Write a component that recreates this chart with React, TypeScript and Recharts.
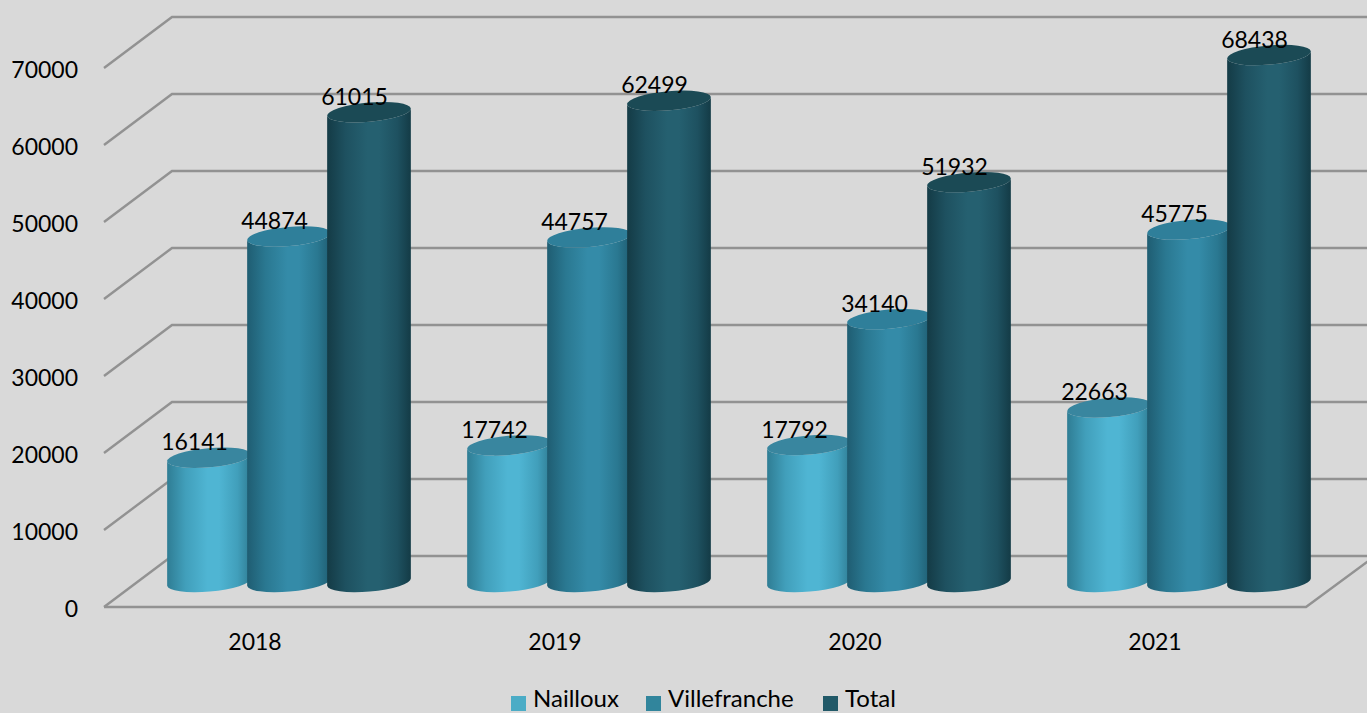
import React from "react";
import { BarChart, Bar, XAxis, YAxis, CartesianGrid, Legend, LabelList } from "recharts";

const years = ["2018", "2019", "2020", "2021"];
const nailloux = [16141, 17742, 17792, 22663];
const villefranche = [44874, 44757, 34140, 45775];
const total = [61015, 62499, 51932, 68438];
const yTicks = [0, 10000, 20000, 30000, 40000, 50000, 60000, 70000];
const seriesNames = ["Nailloux", "Villefranche", "Total"];
const legendColors = ["#4BACC6", "#31859C", "#215968"];
const gradientStops = [
  ["#2f7d94", "#4fb5d3", "#419fbb"],
  ["#1f5d72", "#348ba8", "#2a7891"],
  ["#143b46", "#256070", "#1e5160"],
];
const topColors = ["#39869f", "#2f7f9a", "#1b4a55"];

const rows = years.map((year, i) => ({
  year,
  Nailloux: nailloux[i],
  Villefranche: villefranche[i],
  Total: total[i],
}));

const FONT = "Lato, sans-serif";
const DX = 34;
const DY = -25;
const RY = 9.6;
const TILT = 5;

function cylinder(seriesIndex: number) {
  return function Cylinder(props: any) {
    const { x, y, width, height } = props;
    const rx = width / 2;
    const cx = x + rx + DX;
    const topY = y + DY;
    const baseY = y + height + DY;
    const rad = (TILT * Math.PI) / 180;
    const ex = rx * Math.cos(rad);
    const ey = rx * Math.sin(rad);
    const d = [
      `M ${cx - ex} ${topY + ey}`,
      `L ${cx - ex} ${baseY + ey}`,
      `A ${rx} ${RY} ${-TILT} 0 0 ${cx + ex} ${baseY - ey}`,
      `L ${cx + ex} ${topY - ey}`,
      `A ${rx} ${RY} ${-TILT} 0 1 ${cx - ex} ${topY + ey}`,
      "Z",
    ].join(" ");
    return (
      <g>
        <path d={d} fill={`url(#cyl${seriesIndex})`} />
        <ellipse
          cx={cx}
          cy={topY}
          rx={rx}
          ry={RY}
          fill={topColors[seriesIndex]}
          transform={`rotate(${-TILT} ${cx} ${topY})`}
        />
      </g>
    );
  };
}

const LINE = "#929292";

function gridLine(props: any) {
  const { x1, y1, x2, y2 } = props;
  const pts = `${x1 - 1},${y1} ${x1 + 67},${y1 - 51} ${x2 + 70},${y2 - 51}`;
  const isFloor = Math.abs(y1 - 607) < 1;
  return (
    <g key={`g-${y1}`}>
      <polyline points={pts} fill="none" stroke={LINE} strokeWidth={2.4} />
      {isFloor && (
        <polyline
          points={`${x1 - 1},${y1} ${x2 + 1},${y1} ${x2 + 70},${y1 - 51}`}
          fill="none"
          stroke={LINE}
          strokeWidth={2.4}
        />
      )}
    </g>
  );
}

function valueLabel(props: any) {
  const { x, y, width, value } = props;
  return (
    <text
      x={x + width / 2 + 19.5}
      y={y - 41.5}
      textAnchor="middle"
      dominantBaseline="central"
      fontFamily={FONT}
      fontSize={23}
      fill="#000"
    >
      {value}
    </text>
  );
}

const legendX = [511, 646, 823];

function LegendContent(props: any) {
  const payload = props.payload || [];
  return (
    <div style={{ position: "absolute", left: 0, top: 0, width: 0, height: 0 }}>
      {payload.map((p: any, i: number) => (
        <div
          key={p.value}
          style={{
            position: "absolute",
            left: legendX[i],
            top: 683,
            height: 29,
            lineHeight: "29px",
            whiteSpace: "nowrap",
            fontFamily: FONT,
            fontSize: 24,
            color: "#000",
          }}
        >
          <span
            style={{
              position: "absolute",
              left: 0,
              top: 13,
              width: 15,
              height: 15,
              background: legendColors[i],
            }}
          />
          <span style={{ marginLeft: 22 }}>{p.value}</span>
        </div>
      ))}
    </div>
  );
}

export default function App() {
  const seriesData = [nailloux, villefranche, total];
  return (
    <div
      style={{
        position: "absolute",
        left: 0,
        top: 0,
        width: 1367,
        height: 713,
        background: "#D9D9D9",
        overflow: "hidden",
      }}
    >
      <BarChart
        width={1367}
        height={713}
        data={rows}
        margin={{ top: 68, right: 62, bottom: 0, left: 0 }}
        barSize={84}
        barGap={-4}
        style={{ overflow: "hidden" }}
      >
        <defs>
          {seriesData.map((_, i) => (
            <linearGradient key={i} id={`cyl${i}`} x1="0" y1="0" x2="1" y2="0">
              <stop offset="0" stopColor={gradientStops[i][0]} />
              <stop offset="0.22" stopColor={gradientStops[i][2]} />
              <stop offset="0.48" stopColor={gradientStops[i][1]} />
              <stop offset="0.62" stopColor={gradientStops[i][1]} />
              <stop offset="0.84" stopColor={gradientStops[i][2]} />
              <stop offset="1" stopColor={gradientStops[i][0]} />
            </linearGradient>
          ))}
        </defs>
        <CartesianGrid vertical={false} horizontal={gridLine as any} />
        <XAxis
          dataKey="year"
          height={106}
          axisLine={false}
          tickLine={false}
          tickMargin={21}
          tick={{ fontFamily: FONT, fontSize: 23, fill: "#000" }}
        />
        <YAxis
          width={105}
          domain={[0, 70000]}
          ticks={yTicks}
          axisLine={false}
          tickLine={false}
          tickMargin={21}
          tick={{ fontFamily: FONT, fontSize: 23, fill: "#000", dy: 2 }}
        />
        {seriesNames.map((name, i) => (
          <Bar
            key={name}
            dataKey={name}
            fill={legendColors[i]}
            shape={cylinder(i)}
            isAnimationActive={false}
          >
            <LabelList dataKey={name} content={valueLabel as any} />
          </Bar>
        ))}
        <Legend
          content={<LegendContent />}
          itemSorter={((item: any) => seriesNames.indexOf(item.value)) as any}
          wrapperStyle={{ left: 0, top: 0, width: 0, height: 0, bottom: "auto" }}
        />
      </BarChart>
    </div>
  );
}
